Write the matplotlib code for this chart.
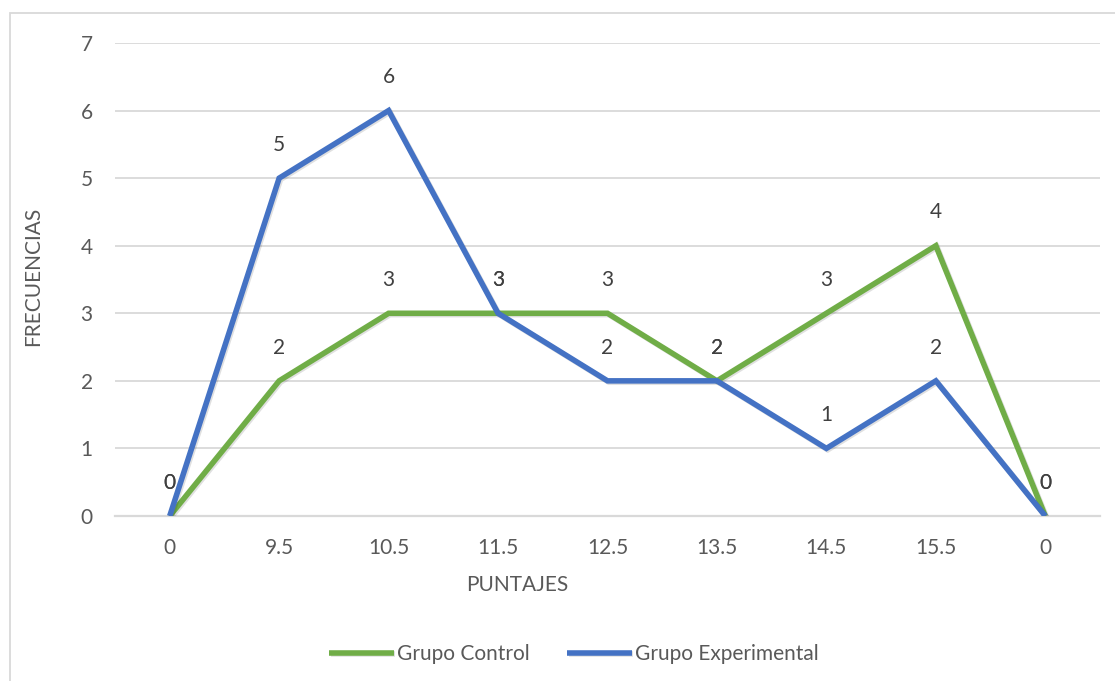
import matplotlib
matplotlib.use("Agg")
import matplotlib.pyplot as plt
import matplotlib.patheffects as pe
from matplotlib.patches import Rectangle

categories = ["0", "9.5", "10.5", "11.5", "12.5", "13.5", "14.5", "15.5", "0"]
control = [0, 2, 3, 3, 3, 2, 3, 4, 0]
experimental = [0, 5, 6, 3, 2, 2, 1, 2, 0]
series_names = ["Grupo Control", "Grupo Experimental"]
y_ticks = [0, 1, 2, 3, 4, 5, 6, 7]

GREEN = "#70AD47"
BLUE = "#4472C4"
TICK = "#595959"
LABEL = "#404040"
GRID = "#D9D9D9"

plt.rcParams["font.family"] = ["Lato", "DejaVu Sans"]
FS = 15

W, H = 1115, 681
fig = plt.figure(figsize=(W / 100, H / 100), dpi=100)
ax = fig.add_axes([115 / W, 1 - 516 / H, (1100 - 115) / W, (516 - 43) / H])

x = list(range(len(categories)))
shadow = [pe.SimpleLineShadow(offset=(1.0, -1.0), alpha=0.12, shadow_color="black"), pe.Normal()]
l1, = ax.plot(x, control, color=GREEN, lw=4.0, solid_joinstyle="miter", solid_capstyle="butt",
              path_effects=shadow, zorder=3, label=series_names[0])
l2, = ax.plot(x, experimental, color=BLUE, lw=4.0, solid_joinstyle="miter", solid_capstyle="butt",
              path_effects=shadow, zorder=4, label=series_names[1])

for xi, v in zip(x, control):
    ax.annotate(str(v), (xi, v), xytext=(0, 24), textcoords="offset points",
                ha="center", va="center", fontsize=FS, color=LABEL, zorder=5)
for xi, v in zip(x, experimental):
    ax.annotate(str(v), (xi, v), xytext=(0, 24), textcoords="offset points",
                ha="center", va="center", fontsize=FS, color=LABEL, zorder=5)

ax.set_xlim(-0.5, len(categories) - 0.5)
ax.set_ylim(0, 7)
ax.set_yticks(y_ticks)
ax.set_xticks(x)
ax.set_xticklabels(categories)
ax.tick_params(length=0, labelsize=FS, labelcolor=TICK)
ax.tick_params(axis="x", pad=16)
ax.tick_params(axis="y", pad=16)
ax.yaxis.grid(True, color=GRID, lw=1.3)
ax.set_axisbelow(True)
for s in ["top", "right", "left"]:
    ax.spines[s].set_visible(False)
ax.spines["bottom"].set_color(GRID)
ax.spines["bottom"].set_linewidth(1.6)

fig.text(517 / W, 1 - 585 / H, "PUNTAJES", ha="center", va="center", fontsize=FS, color=TICK)
fig.text(33 / W, 1 - 276 / H, "FRECUENCIAS", ha="center", va="center", rotation=90,
         fontsize=FS, color=TICK)

fig.legend(handles=[l1, l2], loc="center", bbox_to_anchor=(574 / W, 1 - 654 / H), ncol=2,
           frameon=False, fontsize=FS, handlelength=3.1, handletextpad=0.15, columnspacing=1.8,
           labelcolor=TICK)

fig.patches.append(Rectangle((10 / W, -0.1), 1.2, 1 - 13 / H + 0.1, transform=fig.transFigure,
                             fill=False, edgecolor=GRID, lw=1.3, zorder=0))

fig.savefig("out.png", dpi=100)
